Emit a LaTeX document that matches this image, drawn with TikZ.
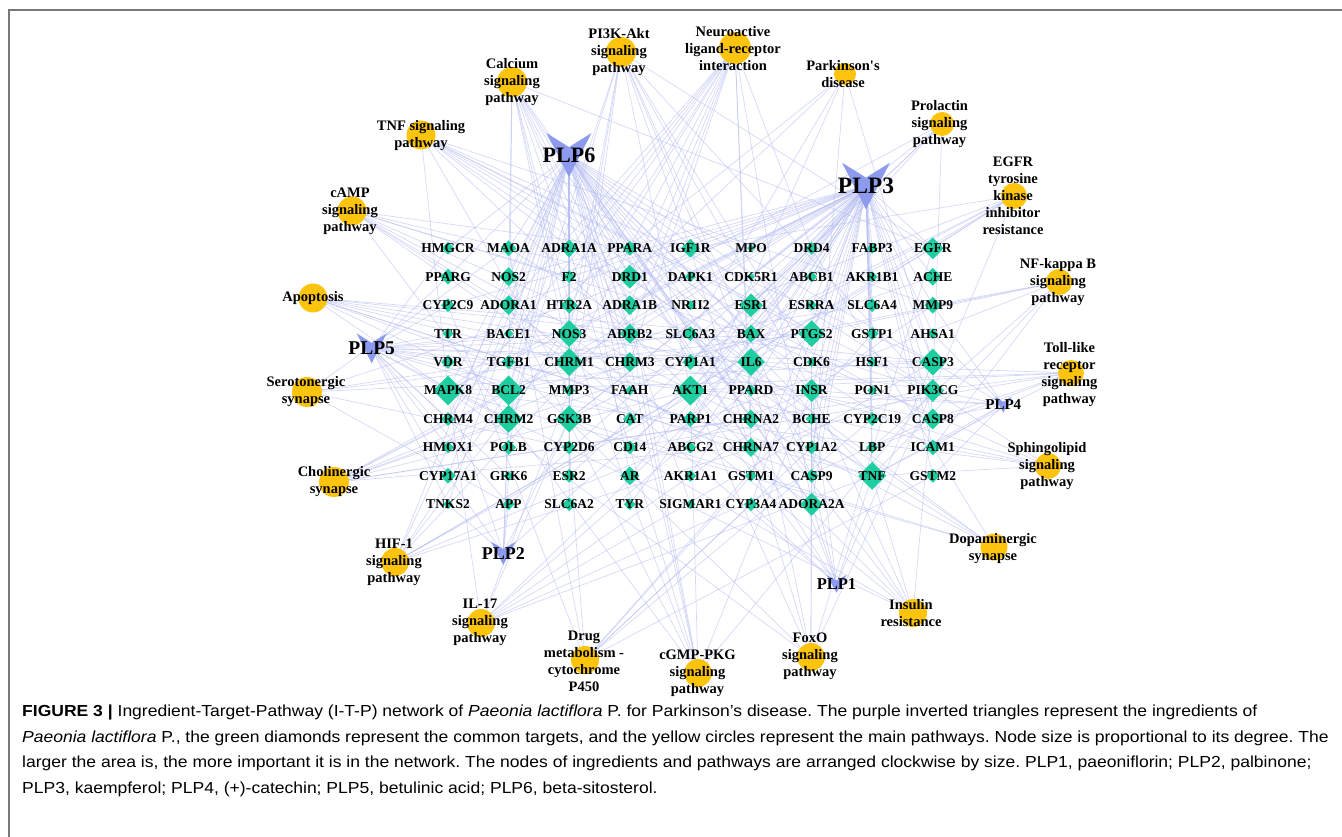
\documentclass[tikz,border=0pt]{standalone}
\usepackage{fontspec}
\setmainfont{Liberation Serif}
\newfontfamily\capfont[FakeStretch=1.095]{Liberation Sans}
\usetikzlibrary{shapes.geometric,backgrounds,positioning}
\definecolor{pathcol}{RGB}{252,196,12}
\definecolor{tgtcol}{RGB}{30,206,160}
\definecolor{ingcol}{RGB}{140,155,238}
\definecolor{edgecol}{RGB}{178,186,240}
\definecolor{framecol}{RGB}{120,120,120}
\frenchspacing

\tikzset{
  tgt/.style={diamond, fill=tgtcol, inner sep=0pt, minimum size=#1},
  tlab/.style={font=\bfseries\fontsize{13.5}{14}\selectfont, inner sep=0pt},
  pw/.style={circle, fill=pathcol, inner sep=0pt, minimum size=#1},
  pwlab/.style={font=\bfseries\fontsize{14.5}{17}\selectfont, align=center, inner sep=0pt},
  inglab/.style={font=\bfseries\fontsize{#1}{#1}\selectfont, inner sep=0pt},
  edge/.style={draw=edgecol, line width=0.7pt, opacity=0.55},
  capline/.style={font=\capfont\fontsize{16}{20}\selectfont, inner sep=0pt, anchor=base west},
}

\begin{document}
\begin{tikzpicture}[x=1pt,y=-1pt]
	\newcommand\Ingr[6]{% name, x, y, half width, height, font size
		\fill[ingcol] (#2-#4,#3-#5/2) -- (#2,#3-0.18*#5) -- (#2+#4,#3-#5/2) -- (#2,#3+#5/2) -- cycle;
		\node[inglab=#6] (#1) at (#2,#3) {#1};}
	\newcommand\Pw[7]{% name, x, y, diameter, text x, text y, text
		\node[pw=#4] (#1) at (#2,#3) {};
		\node[pwlab] (#1-t) at (#5,#6) {#7};}

	\useasboundingbox (0,0) rectangle (1342,837);
	\draw[framecol, line width=1.5pt] (1342,10) -- (9,10) -- (9,837);

	% targets
	\foreach \row [count=\j from 0] in {
		{HMGCR/13,MAOA/16,ADRA1A/18,PPARA/15,IGF1R/19,MPO/8,DRD4/13,FABP3/11,EGFR/22},
		{PPARG/16,NOS2/19,F2/13,DRD1/24,DAPK1/11,CDK5R1/8,ABCB1/11,AKR1B1/11,ACHE/18},
		{CYP2C9/14,ADORA1/20,HTR2A/17,ADRA1B/20,NR1I2/10,ESR1/24,ESRRA/11,SLC6A4/14,MMP9/17},
		{TTR/11,BACE1/10,NOS3/27,ADRB2/20,SLC6A3/15,BAX/18,PTGS2/27,GSTP1/13,AHSA1/11},
		{VDR/14,TGFB1/14,CHRM1/28,CHRM3/20,CYP1A1/16,IL6/28,CDK6/10,HSF1/10,CASP3/27},
		{MAPK8/30,BCL2/30,MMP3/12,FAAH/10,AKT1/30,PPARD/12,INSR/23,PON1/10,PIK3CG/23},
		{CHRM4/14,CHRM2/28,GSK3B/27,CAT/14,PARP1/16,CHRNA2/19,BCHE/12,CYP2C19/14,CASP8/21},
		{HMOX1/12,POLB/15,CYP2D6/14,CD14/14,ABCG2/12,CHRNA7/19,CYP1A2/14,LBP/12,ICAM1/16},
		{CYP17A1/16,GRK6/10,ESR2/14,AR/19,AKR1A1/12,GSTM1/12,CASP9/14,TNF/28,GSTM2/14},
		{TNKS2/10,APP/12,SLC6A2/14,TYR/12,SIGMAR1/10,CYP3A4/14,ADORA2A/23}}{
		\foreach \n/\s [count=\i from 0] in \row {
			\node[tgt=\s] (\n) at (448+60.6*\i,248.3+28.44*\j) {};
			\node[tlab] (\n-t) at (\n) {\n};
		}
	}

	% pathways
	\Pw{pw-calcium}{512}{82}{30}{512}{82}{Calcium\\signaling\\pathway}
	\Pw{pw-pi3k}{621}{52}{30}{619}{52}{PI3K-Akt\\signaling\\pathway}
	\Pw{pw-neuro}{735}{48}{32}{733}{49}{Neuroactive\\ligand-receptor\\interaction}
	\Pw{pw-pd}{845}{74}{22}{843}{74.5}{Parkinson\textquotesingle s\\disease}
	\Pw{pw-prl}{942}{124}{24}{939.5}{124}{Prolactin\\signaling\\pathway}
	\Pw{pw-egfr}{1014}{196}{26}{1013}{196}{EGFR\\tyrosine\\kinase\\inhibitor\\resistance}
	\Pw{pw-nfkb}{1059}{282}{26}{1058}{282}{NF-kappa B\\signaling\\pathway}
	\Pw{pw-toll}{1071}{373}{26}{1069.5}{374.5}{Toll-like\\receptor\\signaling\\pathway}
	\Pw{pw-sphingo}{1048}{466}{26}{1047}{466}{Sphingolipid\\signaling\\pathway}
	\Pw{pw-dopa}{994}{547}{27}{993}{548.5}{Dopaminergic\\synapse}
	\Pw{pw-insulin}{913}{613}{28}{911}{613.5}{Insulin\\resistance}
	\Pw{pw-foxo}{811}{657}{28}{810}{656.5}{FoxO\\signaling\\pathway}
	\Pw{pw-cgmp}{698}{673}{28}{697.5}{673}{cGMP-PKG\\signaling\\pathway}
	\Pw{pw-drug}{585}{660}{28}{584}{661.5}{Drug\\metabolism -\\cytochrome\\P450}
	\Pw{pw-il17}{481}{623}{28}{480}{622}{IL-17\\signaling\\pathway}
	\Pw{pw-hif}{395}{562}{28}{394}{562}{HIF-1\\signaling\\pathway}
	\Pw{pw-cholin}{334}{482}{30}{334}{482}{Cholinergic\\synapse}
	\Pw{pw-sero}{307}{392}{30}{306}{392}{Serotonergic\\synapse}
	\Pw{pw-apop}{313}{298}{29}{313}{298}{Apoptosis}
	\Pw{pw-camp}{352}{211}{29}{350}{211}{cAMP\\signaling\\pathway}
	\Pw{pw-tnf}{421}{135}{29}{421}{136}{TNF signaling\\pathway}

	% ingredients
	\Ingr{PLP6}{569}{155}{22.5}{44}{22}
	\Ingr{PLP3}{866}{186}{24}{46.6}{23.5}
	\Ingr{PLP5}{371.7}{348.3}{15}{30}{19.5}
	\Ingr{PLP4}{1003.3}{404.7}{8.3}{16}{15}
	\Ingr{PLP2}{503.3}{553.3}{12.3}{23.3}{18}
	\Ingr{PLP1}{836.5}{583.8}{10}{17.7}{16.5}

	% edges
	\begin{scope}[on background layer]
		\foreach \a/\ts in {
			PLP6/{HMGCR,MAOA,ADRA1A,PPARA,PPARG,NOS2,F2,DRD1,ADORA1,HTR2A,ADRA1B,NR1I2,BACE1,NOS3,ADRB2,SLC6A3,TGFB1,CHRM1,CHRM3,MAPK8,BCL2,MMP3,CHRM4,CHRM2,GSK3B,CAT,HMOX1,POLB,CYP2D6,CYP17A1,ESR2,AR,TNKS2,SLC6A2,SIGMAR1,CHRNA2,CHRNA7,CASP3,CASP9,PTGS2,BAX,IL6,INSR,ADORA2A,TNF,ESR1,PIK3CG,FAAH,CYP1A1},
			PLP3/{IGF1R,MPO,DRD4,FABP3,EGFR,DAPK1,CDK5R1,ABCB1,AKR1B1,ACHE,ESR1,ESRRA,SLC6A4,MMP9,BAX,PTGS2,GSTP1,AHSA1,CYP1A1,IL6,CDK6,HSF1,CASP3,AKT1,PPARD,INSR,PON1,PIK3CG,PARP1,BCHE,CYP2C19,CASP8,ABCG2,CYP1A2,LBP,ICAM1,AKR1A1,GSTM1,CASP9,TNF,GSTM2,CYP3A4,ADORA2A,CYP2C9,NOS2,NOS3,ADRB2,F2,AR,DRD1,CHRM1,GSK3B,BCL2,MAPK8,ADORA1,ADRA1B,HTR2A,APP,TYR,CD14},
			PLP5/{HMGCR,PPARG,CYP2C9,TTR,VDR,MAPK8,CHRM4,HMOX1,CYP17A1,TNKS2,GRK6,APP,BCL2,CASP3,IL6,TNF,AKT1,CHRM2,BACE1,TGFB1,PTGS2,NOS3},
			PLP4/{CASP3,PIK3CG,CASP8,ICAM1,MMP9,AHSA1,GSTM2,TNF,INSR,AKT1},
			PLP2/{AKT1,MAPK8,CHRM2,APP,GRK6,BCL2,GSK3B,CYP17A1,TNKS2},
			PLP1/{TNF,ADORA2A,ADORA1,AKT1,CASP3,IL6,INSR,CYP3A4,CASP9,CHRNA7},
			pw-calcium/{ADRA1A,ADRA1B,HTR2A,CHRM1,CHRM2,CHRM3,DRD1,NOS2,NOS3,ADRB2,EGFR,ADORA2A,CHRNA7},
			pw-pi3k/{AKT1,BCL2,CASP9,EGFR,IGF1R,IL6,INSR,PIK3CG,GSK3B,CDK6,NOS3,CHRM1,CHRM2},
			pw-neuro/{ADRA1A,ADRA1B,ADRB2,ADORA1,ADORA2A,CHRM1,CHRM2,CHRM3,CHRM4,CHRNA2,CHRNA7,DRD1,DRD4,HTR2A,F2},
			pw-pd/{CASP3,CASP9,DRD1,SLC6A3,MAPK8,PARP1},
			pw-prl/{AKT1,ESR1,ESR2,GSK3B,MAPK8,PIK3CG},
			pw-egfr/{AKT1,BAX,BCL2,EGFR,GSK3B,IGF1R,IL6,PIK3CG},
			pw-nfkb/{BCL2,CD14,ICAM1,LBP,PTGS2,TNF,MMP9},
			pw-toll/{AKT1,CASP8,CD14,IL6,LBP,MAPK8,PIK3CG,TNF},
			pw-sphingo/{AKT1,BAX,MAPK8,PIK3CG,TNF,ADORA1,ICAM1},
			pw-dopa/{AKT1,DRD1,DRD4,GSK3B,MAOA,SLC6A3,MAPK8},
			pw-insulin/{AKT1,GSK3B,IL6,INSR,MAPK8,PIK3CG,PPARA,TNF,NOS3},
			pw-foxo/{AKT1,EGFR,IGF1R,IL6,INSR,MAPK8,PIK3CG,TGFB1,CDK6},
			pw-cgmp/{ADRA1A,ADRA1B,ADRB2,AKT1,NOS3,PIK3CG,INSR,ADORA1,CHRM2,CHRM3},
			pw-drug/{CYP2C9,CYP2D6,CYP1A2,CYP3A4,CYP2C19,MAOA,GSTM1,GSTM2,GSTP1},
			pw-il17/{CASP3,CASP8,IL6,MAPK8,PTGS2,TNF,GSK3B,MMP3,MMP9},
			pw-hif/{AKT1,BCL2,EGFR,HMOX1,IGF1R,IL6,INSR,NOS2,NOS3,PIK3CG},
			pw-cholin/{AKT1,BCL2,CHRM1,CHRM2,CHRM3,CHRM4,CHRNA2,CHRNA7,PIK3CG,ACHE},
			pw-sero/{HTR2A,MAOA,PTGS2,SLC6A4,CASP3,CYP2D6,APP},
			pw-apop/{AKT1,BAX,BCL2,CASP3,CASP8,CASP9,MAPK8,PARP1,PIK3CG,TNF},
			pw-camp/{ADORA1,ADORA2A,ADRB2,AKT1,CHRM1,CHRM2,DRD1,PIK3CG,F2,PPARA},
			pw-tnf/{AKT1,CASP3,CASP8,ICAM1,IL6,MAPK8,MMP3,MMP9,PIK3CG,PTGS2,TNF}}{
			\foreach \t in \ts
				\draw[edge] (\a.center) -- (\t.center);
		}
	\end{scope}

	% caption
	\node[capline] (cap1) at (22,716.5) {\textbf{FIGURE 3 |} Ingredient-Target-Pathway (I-T-P) network of \textit{Paeonia lactiflora} P. for Parkinson’s disease. The purple inverted triangles represent the ingredients of};
	\node[capline] (cap2) at (22,742) {\textit{Paeonia lactiflora} P., the green diamonds represent the common targets, and the yellow circles represent the main pathways. Node size is proportional to its degree. The};
	\node[capline] (cap3) at (22,767.7) {larger the area is, the more important it is in the network. The nodes of ingredients and pathways are arranged clockwise by size. PLP1, paeoniflorin; PLP2, palbinone;};
	\node[capline] (cap4) at (22,793.4) {PLP3, kaempferol; PLP4, (+)-catechin; PLP5, betulinic acid; PLP6, beta-sitosterol.};
\end{tikzpicture}
\end{document}
